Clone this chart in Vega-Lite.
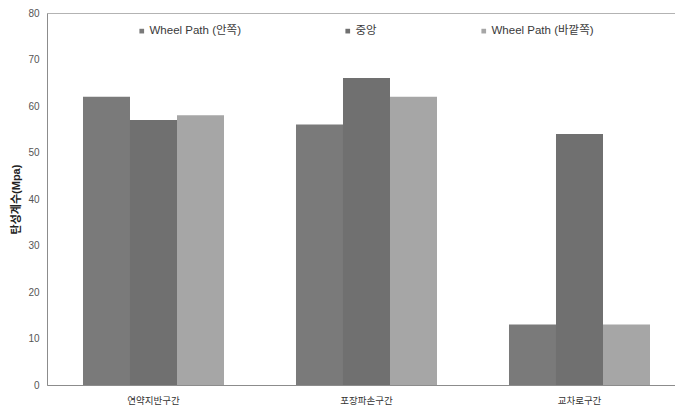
{
  "$schema": "https://vega.github.io/schema/vega-lite/v6.json",
  "width": 639,
  "height": 372,
  "autosize": "none",
  "padding": {"left": 47, "top": 13, "right": 0, "bottom": 21},
  "background": "white",
  "config": {
    "font": "Liberation Sans, Noto Sans CJK KR",
    "view": {"stroke": "#b3b3b3", "strokeWidth": 1},
    "axis": {"labelFont": "Liberation Sans, Noto Sans CJK KR", "labelColor": "#555555", "domainColor": "#8c8c8c", "ticks": false}
  },
  "data": {
    "values": [
      {"구간": "연약지반구간", "위치": "Wheel Path (안쪽)", "탄성계수": 62},
      {"구간": "연약지반구간", "위치": "중앙", "탄성계수": 57},
      {"구간": "연약지반구간", "위치": "Wheel Path (바깥쪽)", "탄성계수": 58},
      {"구간": "포장파손구간", "위치": "Wheel Path (안쪽)", "탄성계수": 56},
      {"구간": "포장파손구간", "위치": "중앙", "탄성계수": 66},
      {"구간": "포장파손구간", "위치": "Wheel Path (바깥쪽)", "탄성계수": 62},
      {"구간": "교차로구간", "위치": "Wheel Path (안쪽)", "탄성계수": 13},
      {"구간": "교차로구간", "위치": "중앙", "탄성계수": 54},
      {"구간": "교차로구간", "위치": "Wheel Path (바깥쪽)", "탄성계수": 13}
    ]
  },
  "mark": {"type": "bar"},
  "encoding": {
    "x": {
      "field": "구간",
      "type": "nominal",
      "sort": ["연약지반구간", "포장파손구간", "교차로구간"],
      "scale": {"paddingInner": 0.338, "paddingOuter": 0.169},
      "axis": {"title": null, "labelAngle": 0, "labelFontSize": 9.5, "labelPadding": 10, "labelColor": "#333333"}
    },
    "xOffset": {
      "field": "위치",
      "type": "nominal",
      "sort": ["Wheel Path (안쪽)", "중앙", "Wheel Path (바깥쪽)"],
      "scale": {"paddingInner": 0, "paddingOuter": 0}
    },
    "y": {
      "field": "탄성계수",
      "type": "quantitative",
      "scale": {"domain": [0, 80], "nice": false},
      "axis": {
        "title": "탄성계수(Mpa)",
        "titleFontSize": 11,
        "titleFontWeight": "bold",
        "titleColor": "#222222",
        "titlePadding": 6,
        "values": [0, 10, 20, 30, 40, 50, 60, 70, 80],
        "labelFontSize": 10,
        "labelPadding": 8,
        "grid": false
      }
    },
    "color": {
      "field": "위치",
      "type": "nominal",
      "sort": ["Wheel Path (안쪽)", "중앙", "Wheel Path (바깥쪽)"],
      "scale": {"range": ["#7a7a7a", "#707070", "#a6a6a6"]},
      "legend": {
        "title": null,
        "orient": "none",
        "legendX": 89,
        "legendY": 12,
        "direction": "horizontal",
        "columns": 3,
        "columnPadding": 101,
        "symbolType": "square",
        "symbolSize": 22,
        "symbolOffset": 0,
        "labelOffset": 2,
        "labelFontSize": 11.5,
        "labelColor": "#3a3a3a",
        "labelLimit": 200
      }
    }
  }
}
